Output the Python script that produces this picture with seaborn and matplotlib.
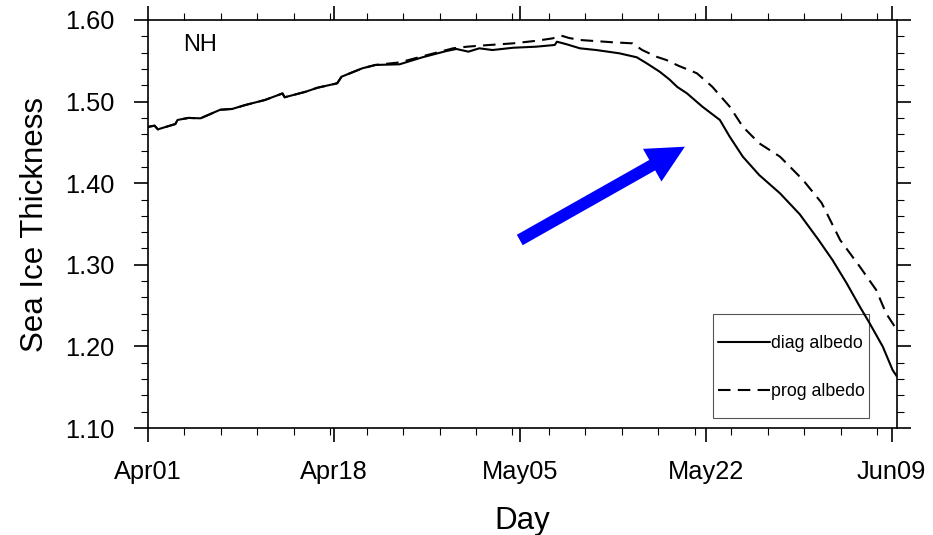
import numpy as np
import pandas as pd
import matplotlib
matplotlib.use("Agg")
import matplotlib.pyplot as plt
from matplotlib.ticker import MultipleLocator, FixedLocator, FixedFormatter, FormatStrFormatter
from matplotlib.patches import Rectangle
import seaborn as sns

# ---------------- data ----------------
diag_day = [0, 0.6, 0.9, 2.5, 2.7, 3.7, 4.8, 6.6, 7.7, 8.9, 10.7, 12.3, 12.5, 14.4,
            15.5, 17.3, 17.7, 18.6, 19.6, 20.8, 23.0, 25.1, 27.3, 28.2, 29.3, 30.3,
            31.5, 33.4, 35.5, 37.2, 37.4, 38.3, 39.5, 41.0, 43.1, 44.7, 45.6, 46.8,
            47.7, 48.4, 49.3, 50.7, 52.3, 53.2, 54.4, 55.9, 57.8, 59.6, 61.3, 62.6,
            63.9, 65.1, 66.0, 67.2, 68.1, 68.5]
diag_val = [1.469, 1.4705, 1.466, 1.4725, 1.4775, 1.480, 1.4795, 1.490, 1.491, 1.4958,
            1.502, 1.510, 1.5053, 1.512, 1.517, 1.5224, 1.5305, 1.5354, 1.5408, 1.5449,
            1.5457, 1.5543, 1.562, 1.5645, 1.5612, 1.5653, 1.5632, 1.566, 1.5673, 1.5694,
            1.5734, 1.5702, 1.5653, 1.5632, 1.5592, 1.5543, 1.547, 1.5366, 1.527, 1.518,
            1.510, 1.4938, 1.4775, 1.457, 1.4325, 1.410, 1.3876, 1.362, 1.331, 1.3059,
            1.2773, 1.2487, 1.2283, 1.1997, 1.171, 1.163]

prog_day = [0, 0.6, 0.9, 2.5, 2.7, 3.7, 4.8, 6.6, 7.7, 8.9, 10.7, 12.3, 12.5, 14.4,
            15.5, 17.3, 17.7, 18.6, 19.6, 20.8, 23.0, 25.1, 27.9, 29.2, 30.3, 33.4,
            35.5, 37.0, 37.8, 38.5, 39.5, 42.5, 44.3, 45.2, 46.5, 47.4, 48.5, 50.2,
            51.6, 53.2, 54.4, 55.9, 57.8, 59.9, 61.6, 63.3, 65.1, 66.6, 67.5, 68.5]
prog_val = [1.469, 1.4705, 1.466, 1.4725, 1.4775, 1.480, 1.4795, 1.490, 1.491, 1.4958,
            1.502, 1.510, 1.5053, 1.512, 1.517, 1.5224, 1.5305, 1.5354, 1.5408, 1.5449,
            1.548, 1.5555, 1.5653, 1.5673, 1.5685, 1.5714, 1.5745, 1.5775, 1.5808, 1.578,
            1.5755, 1.5727, 1.5714, 1.5632, 1.555, 1.551, 1.544, 1.5347, 1.5183, 1.4938,
            1.4692, 1.4489, 1.4325, 1.404, 1.376, 1.3304, 1.2977, 1.2691, 1.2406, 1.220]

series_names = ["diag albedo", "prog albedo"]
xtick_days = [0, 17, 34, 51, 68]
xtick_labels = ["Apr01", "Apr18", "May05", "May22", "Jun09"]
ytick_vals = [1.10, 1.20, 1.30, 1.40, 1.50, 1.60]

df = pd.concat([
    pd.DataFrame({"day": diag_day, "thick": diag_val, "series": series_names[0]}),
    pd.DataFrame({"day": prog_day, "thick": prog_val, "series": series_names[1]}),
], ignore_index=True)

# ---------------- style ----------------
sns.set_style("white")
plt.rcParams["font.family"] = ["Liberation Sans", "DejaVu Sans"]
plt.rcParams["text.color"] = "black"
plt.rcParams["axes.labelcolor"] = "black"
plt.rcParams["xtick.color"] = "black"
plt.rcParams["ytick.color"] = "black"

fig = plt.figure(figsize=(9.33, 5.35), dpi=100)
ax = fig.add_axes([148 / 933, 107 / 535, 749 / 933, 408 / 535])

sns.lineplot(data=df, x="day", y="thick", style="series", color="black",
             dashes={"diag albedo": "", "prog albedo": (6, 3.5)},
             linewidth=1.5, estimator=None, sort=False, ax=ax)

handles, labels = ax.get_legend_handles_labels()
if ax.get_legend() is not None:
    ax.get_legend().remove()

ax.set_xlim(0, 68.5)
ax.set_ylim(1.10, 1.60)

ax.xaxis.set_major_locator(FixedLocator(xtick_days))
ax.xaxis.set_major_formatter(FixedFormatter(xtick_labels))
ax.xaxis.set_minor_locator(MultipleLocator(10 / 3))
ax.yaxis.set_major_locator(FixedLocator(ytick_vals))
ax.yaxis.set_major_formatter(FormatStrFormatter("%.2f"))
ax.yaxis.set_minor_locator(MultipleLocator(0.02))

ax.tick_params(which="both", direction="out", top=True, right=True,
               bottom=True, left=True, labeltop=False, labelright=False,
               color="black", labelcolor="black")
ax.tick_params(which="major", length=10, width=1.2, labelsize=18.3)
ax.tick_params(axis="y", which="major", pad=14)
ax.tick_params(axis="x", which="major", pad=13)
ax.tick_params(which="minor", length=5, width=0.8)

for s in ax.spines.values():
    s.set_visible(True)
    s.set_color("black")
    s.set_linewidth(1.2)

ax.set_xlabel("Day", fontsize=22.5, labelpad=16)
ax.set_ylabel("Sea Ice Thickness", fontsize=22.5, labelpad=11)

ax.text(0.047, 0.938, "NH", transform=ax.transAxes, fontsize=17,
        ha="left", va="center")

# blue arrow
ax.annotate("", xy=(49.1, 1.4447), xytext=(34.0, 1.3304),
            arrowprops=dict(arrowstyle="simple,head_length=27,head_width=27,tail_width=8.6",
                            mutation_scale=1, color="blue", shrinkA=0, shrinkB=0, lw=0))

# legend
ax.add_patch(Rectangle((0.754, 0.024), 0.209, 0.255, transform=ax.transAxes,
                       fill=False, edgecolor="#555555", linewidth=0.8, zorder=1))
leg = ax.legend(handles, labels, loc="upper left", bbox_to_anchor=(0.761, 0.228),
                frameon=False, fontsize=12.8, handlelength=2.9, handletextpad=0.1,
                labelspacing=1.75, borderpad=0, borderaxespad=0)

fig.savefig("out.png", dpi=100)
